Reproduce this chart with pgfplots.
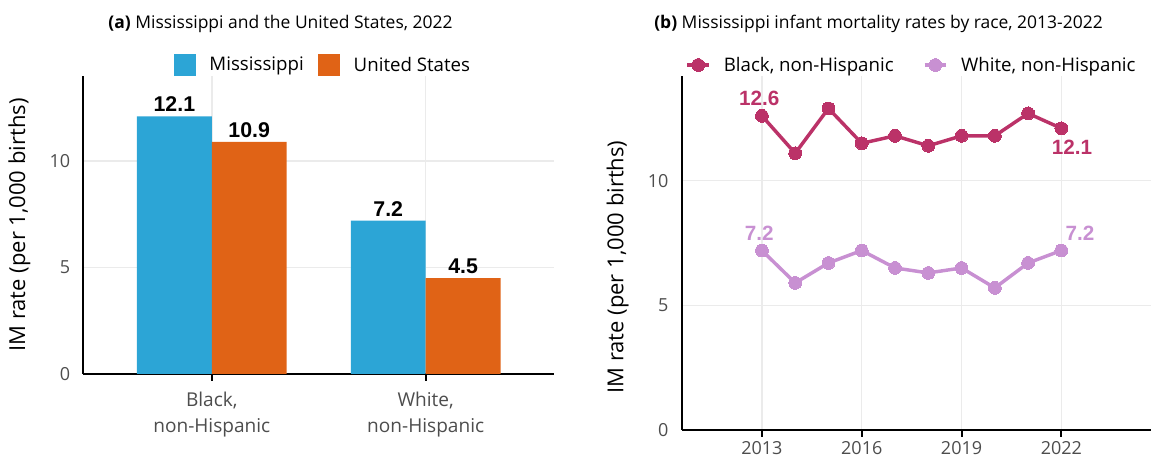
\documentclass[border=0pt]{standalone}
\usepackage{fontspec}
\setmainfont{Open Sans}
\newfontfamily\lab{Liberation Sans}
\usepackage{pgfplots}
\pgfplotsset{compat=1.18}
\definecolor{msblue}{HTML}{2CA5D6}
\definecolor{usorange}{HTML}{E06316}
\definecolor{blk}{HTML}{BB3268}
\definecolor{wht}{HTML}{C890D2}
\definecolor{gridc}{HTML}{EBEBEB}
\definecolor{tickc}{HTML}{4D4D4D}
\pgfplotsset{
 common/.style={
  scale only axis, anchor=south west,
  axis lines*=left, axis line style={black, line width=1.5pt},
  grid=major, major grid style={gridc, line width=1.1pt},
  tick align=outside, major tick length=5pt,
  ytick style={draw=none}, xtick style={black, line width=1.5pt},
  tick label style={font=\fontsize{13.5}{16}\selectfont, color=tickc},
  /pgf/number format/assume math mode=true,
  ylabel={IM rate (per 1,000 births)},
  ylabel style={font=\fontsize{16.5}{20}\selectfont, anchor=center},
  yticklabel style={xshift=-1.5pt},
  clip=false,
  legend style={draw=none, fill=none, legend columns=2, anchor=center,
    font=\fontsize{14}{17}\selectfont,
    /tikz/every odd column/.append style={column sep=8pt}},
 }
}
\begin{document}
\begin{tikzpicture}
\useasboundingbox (0,0) rectangle (863.25pt,344.25pt);
\node[anchor=base, font=\fontsize{13.1}{16}\selectfont] at (210.4pt,322.5pt) {\textbf{(a)} Mississippi and the United States, 2022};
\node[anchor=base, font=\fontsize{13.1}{16}\selectfont] at (658.9pt,322.5pt) {\textbf{(b)} Mississippi infant mortality rates by race, 2013-2022};

% ---------- panel (a)
\begin{axis}[common, at={(62.6pt,63.75pt)}, width=352.9pt, height=223.5pt,
  xmin=0.4, xmax=2.6, ymin=0, ymax=14,
  xtick={1,2}, xticklabels={{Black,\\non-Hispanic},{White,\\non-Hispanic}},
  xticklabel style={align=center, font=\fontsize{14.3}{19.5}\selectfont, yshift=-5pt},
  ytick={0,5,10},
  ylabel style={at={(axis description cs:-0.136,0.5)}},
  ybar, bar width=0.35,
  nodes near coords,
  every node near coord/.append style={font=\lab\bfseries\fontsize{16}{19}\selectfont, color=black,
    /pgf/number format/fixed, /pgf/number format/fixed zerofill, /pgf/number format/precision=1},
  legend style={at={(axis description cs:0.51,1.037)},
    /tikz/every even column/.append style={column sep=9pt}},
  legend image code/.code={\fill[#1] (0pt,-8.25pt) rectangle (16.5pt,8.25pt);},
]
\addplot[fill=msblue, draw=none, bar shift=-0.175] coordinates {(1,12.1) (2,7.2)};
\addlegendentry{Mississippi}
\addplot[fill=usorange, draw=none, bar shift=0.175] coordinates {(1,10.9) (2,4.5)};
\addlegendentry{United States}
\end{axis}

% ---------- panel (b)
\begin{axis}[common, at={(511.3pt,21.75pt)}, width=354.6pt, height=265.5pt,
  xmin=2010.59, xmax=2024.8, ymin=0, ymax=14.2,
  xtick={2013,2016,2019,2022}, ytick={0,5,10},
  xticklabel style={/pgf/number format/1000 sep={}},
  ylabel style={at={(axis description cs:-0.1354,0.46)}},
  legend style={at={(axis description cs:0.487,1.031)},
    /tikz/every even column/.append style={column sep=20pt}},
  legend image code/.code={\draw[#1, mark repeat=2, mark phase=2] plot coordinates {(0pt,0pt) (8pt,0pt) (16pt,0pt)};},
]
\addplot[blk, line width=2.6pt, mark=*, mark size=4.8pt, mark options={solid, fill=blk, draw=blk, line width=0pt}] coordinates {
 (2013,12.6) (2014,11.1) (2015,12.9) (2016,11.5) (2017,11.8)
 (2018,11.4) (2019,11.8) (2020,11.8) (2021,12.7) (2022,12.1)};
\addlegendentry{Black, non-Hispanic}
\addplot[wht, line width=2.6pt, mark=*, mark size=4.8pt, mark options={solid, fill=wht, draw=wht, line width=0pt}] coordinates {
 (2013,7.2) (2014,5.9) (2015,6.7) (2016,7.2) (2017,6.5)
 (2018,6.3) (2019,6.5) (2020,5.7) (2021,6.7) (2022,7.2)};
\addlegendentry{White, non-Hispanic}
% value labels
\addplot[forget plot, draw=none, mark=none, nodes near coords, point meta=y,
  every node near coord/.append style={anchor=south, yshift=4pt, xshift=-2pt, color=blk, font=\lab\bfseries\fontsize{15.5}{18}\selectfont,
   /pgf/number format/fixed, /pgf/number format/fixed zerofill, /pgf/number format/precision=1}]
  coordinates {(2013,12.6)};
\addplot[forget plot, draw=none, mark=none, nodes near coords, point meta=y,
  every node near coord/.append style={anchor=north, yshift=-5pt, xshift=8pt, color=blk, font=\lab\bfseries\fontsize{15.5}{18}\selectfont,
   /pgf/number format/fixed, /pgf/number format/fixed zerofill, /pgf/number format/precision=1}]
  coordinates {(2022,12.1)};
\addplot[forget plot, draw=none, mark=none, nodes near coords, point meta=y,
  every node near coord/.append style={anchor=south, yshift=4pt, xshift=-2pt, color=wht, font=\lab\bfseries\fontsize{15.5}{18}\selectfont,
   /pgf/number format/fixed, /pgf/number format/fixed zerofill, /pgf/number format/precision=1}]
  coordinates {(2013,7.2)};
\addplot[forget plot, draw=none, mark=none, nodes near coords, point meta=y,
  every node near coord/.append style={anchor=south, yshift=4pt, xshift=14pt, color=wht, font=\lab\bfseries\fontsize{15.5}{18}\selectfont,
   /pgf/number format/fixed, /pgf/number format/fixed zerofill, /pgf/number format/precision=1}]
  coordinates {(2022,7.2)};
\end{axis}
\end{tikzpicture}
\end{document}
